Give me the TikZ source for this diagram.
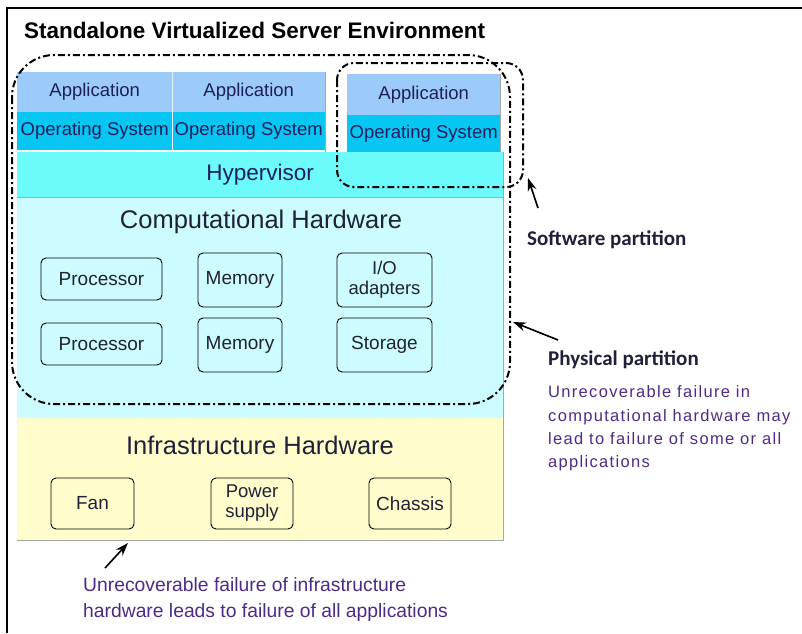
\documentclass[tikz,border=0pt]{standalone}
\usepackage{fontspec}
\setmainfont{Liberation Sans}
\newfontfamily\notefont[LetterSpace=8]{Liberation Sans}
\newfontfamily\labelfont{Carlito}
\usetikzlibrary{arrows.meta}

\definecolor{appblue}{HTML}{9CCBFA}
\definecolor{osblue}{HTML}{08C6F2}
\definecolor{hypcyan}{HTML}{6CFAFA}
\definecolor{hypedge}{HTML}{6CC8C8}
\definecolor{compcyan}{HTML}{CCFCFF}
\definecolor{infrayellow}{HTML}{FFFDCC}
\definecolor{celltext}{HTML}{1E1E5E}
\definecolor{hwtext}{HTML}{202038}
\definecolor{notepurple}{HTML}{4E2A86}
\definecolor{edgegray}{HTML}{A0A8A8}

\newcommand{\setfs}[1]{\fontsize{#1}{#1}\selectfont}

\tikzset{
  cell/.style={inner sep=0pt, anchor=north west, text=celltext, font=\setfs{18.5}},
  hwbox/.style={draw=black, line width=0.9pt, rounded corners=5pt, inner sep=0pt,
                text=hwtext, font=\setfs{19}, align=center},
  twoline/.style={font=\fontsize{18.5}{20}\selectfont},
  partline/.style={line width=2pt, dash pattern=on 7pt off 3pt on 2pt off 3pt},
  pointer/.style={line width=1.6pt, -{Stealth[length=13pt,width=9pt]}},
  note/.style={inner sep=0pt, anchor=base west, text=notepurple},
}

\begin{document}
\begin{tikzpicture}[x=1pt,y=-1pt]
\useasboundingbox (0,0) rectangle (802,633);

% outer frame (top and left edges)
\draw[line width=2pt] (7,633) -- (7,8) -- (802,8);

\node[inner sep=0pt, anchor=base west, font=\bfseries\setfs{22.5}] (title) at (24,38)
  {Standalone Virtualized Server Environment};

% hardware layers
\fill[infrayellow] (17,418) rectangle (503,540);
\fill[compcyan] (17,197) rectangle (503,418);
\node[cell, fill=hypcyan, minimum width=486pt, minimum height=45pt, font=\setfs{22.5}] (hyp) at (17,152) {Hypervisor};
\draw[edgegray, line width=1pt] (17,540) -- (503,540) -- (503,152);
\draw[hypedge, line width=1pt] (17,197) -- (503,197);

% guests
\node[cell, fill=appblue, minimum width=155pt, minimum height=40pt] (app1) at (17,72) {Application};
\node[cell, fill=osblue, minimum width=155pt, minimum height=38pt] (os1) at (17,112) {Operating System};
\node[cell, fill=appblue, minimum width=153pt, minimum height=40pt] (app2) at (172,72) {Application};
\node[cell, fill=osblue, minimum width=153pt, minimum height=38pt] (os2) at (172,112) {Operating System};
\node[cell, fill=appblue, minimum width=153pt, minimum height=41pt] (app3) at (347,74) {Application};
\node[cell, fill=osblue, minimum width=153pt, minimum height=37pt] (os3) at (347,115) {Operating System};
\draw[white!75!appblue, line width=1pt] (172,72) -- (172,152);
\draw[edgegray, line width=0.8pt] (325,72) -- (325,152);
\draw[edgegray, line width=0.8pt] (500,74) -- (500,152);

\node[inner sep=0pt, text=hwtext, font=\setfs{25.5}] (comptitle) at (261,222) {Computational Hardware};
\node[inner sep=0pt, text=hwtext, font=\setfs{25.5}] (infratitle) at (260,445) {Infrastructure Hardware};

% computational components
\node[hwbox, minimum width=121pt, minimum height=42pt] (proc1) at (101.5,279) {Processor};
\node[hwbox, minimum width=121pt, minimum height=42pt] (proc2) at (101.5,344) {Processor};
\node[hwbox, minimum width=84pt, minimum height=54pt] (mem1) at (240,280) {Memory};
\node[hwbox, minimum width=84pt, minimum height=54pt] (mem2) at (240,345) {Memory};
\node[hwbox, twoline, minimum width=95pt, minimum height=54pt] (io) at (384.5,280) {I/O\\adapters};
\node[hwbox, minimum width=95pt, minimum height=54pt] (stor) at (384.5,345) {Storage};

% infrastructure components
\node[hwbox, minimum width=83pt, minimum height=51pt] (fan) at (92.5,503.5) {Fan};
\node[hwbox, twoline, minimum width=82pt, minimum height=51pt] (psu) at (252,503.5) {Power\\supply};
\node[hwbox, minimum width=82pt, minimum height=51pt] (chassis) at (410,503.5) {Chassis};

% partitions
\draw[partline, rounded corners=42pt] (12,55) rectangle (510,404);
\draw[partline, rounded corners=17pt] (337,63) rectangle (523,187);

% annotations
\node[inner sep=0pt, anchor=base west, text=hwtext, font=\labelfont\bfseries\setfs{21}] (swlabel) at (527,245) {Software partition};
\node[inner sep=0pt, anchor=base west, text=hwtext, font=\labelfont\bfseries\setfs{21}] (phlabel) at (548,365) {Physical partition};
\node[note, font=\notefont\setfs{16.5}] (ph1) at (548,397) {Unrecoverable failure in};
\node[note, font=\notefont\setfs{16.5}] (ph2) at (548,421) {computational hardware may};
\node[note, font=\notefont\setfs{16.5}] (ph3) at (548,444.5) {lead to failure of some or all};
\node[note, font=\notefont\setfs{16.5}] (ph4) at (548,467) {applications};
\node[note, font=\setfs{19.3}] (inf1) at (83,591) {Unrecoverable failure of infrastructure};
\node[note, font=\setfs{19.3}] (inf2) at (83,617) {hardware leads to failure of all applications};

% pointers
\coordinate (swtail) at (538,208);
\coordinate (swtip) at (528,178);
\coordinate (phtail) at (558,340);
\coordinate (phtip) at (513,322);
\coordinate (iftail) at (105,568);
\coordinate (iftip) at (128,543);
\draw[pointer] (swtail) -- (swtip);
\draw[pointer] (phtail) -- (phtip);
\draw[pointer] (iftail) -- (iftip);
\end{tikzpicture}
\end{document}
